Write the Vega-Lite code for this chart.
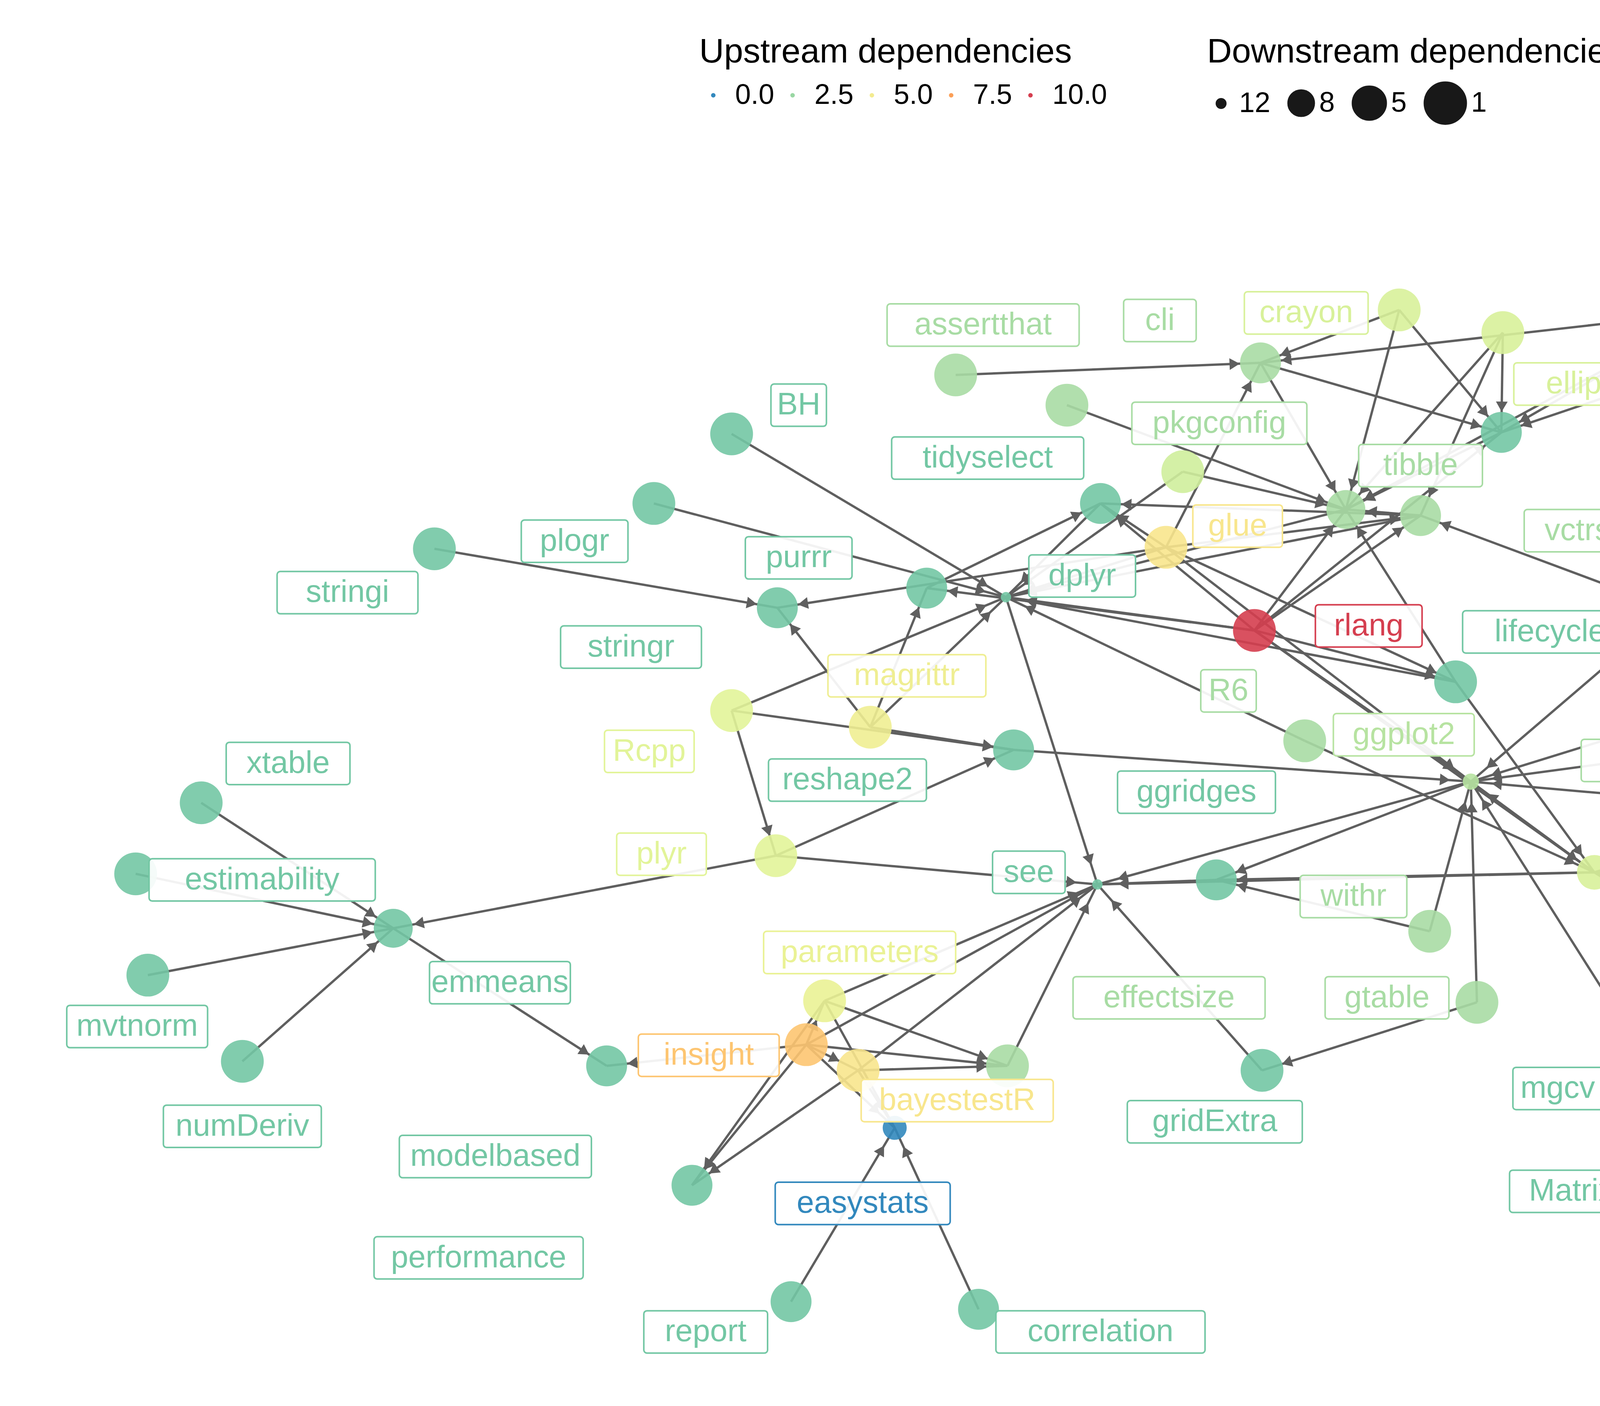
{
"$schema":"https://vega.github.io/schema/vega-lite/v6.json",
"width":6048,"height":3600,
"autosize":{"type":"none"},
"padding":0,
"background":"white",
"config":{"view":{"stroke":null},"font":"Liberation Sans"},
"datasets":{
"nodes":[
{"name":"easystats","x":587,"y":746,"lx":566,"ly":796,"up":0,"down":9},
{"name":"report","x":519,"y":861,"lx":463,"ly":881,"up":1.7,"down":2},
{"name":"correlation","x":642,"y":866,"lx":722,"ly":881,"up":1.7,"down":2},
{"name":"performance","x":454,"y":784,"lx":314,"ly":832,"up":1.7,"down":2},
{"name":"modelbased","x":398,"y":705,"lx":325,"ly":765,"up":1.7,"down":2},
{"name":"emmeans","x":258,"y":614,"lx":328,"ly":650,"up":1.7,"down":3},
{"name":"xtable","x":132,"y":531,"lx":189,"ly":505,"up":1.7,"down":1},
{"name":"estimability","x":89,"y":578,"lx":172,"ly":582,"up":1.7,"down":1},
{"name":"mvtnorm","x":97,"y":645,"lx":90,"ly":679,"up":1.7,"down":1},
{"name":"numDeriv","x":159,"y":702,"lx":159,"ly":745,"up":1.7,"down":1},
{"name":"insight","x":529,"y":691,"lx":465,"ly":698,"up":6.5,"down":1},
{"name":"bayestestR","x":563,"y":708,"lx":628,"ly":728,"up":5.3,"down":1},
{"name":"parameters","x":541,"y":662,"lx":564,"ly":630,"up":4.5,"down":1},
{"name":"effectsize","x":661,"y":705,"lx":767,"ly":660,"up":2.8,"down":1},
{"name":"see","x":720,"y":585,"lx":675,"ly":577,"up":1.7,"down":12},
{"name":"gridExtra","x":828,"y":708,"lx":797,"ly":742,"up":1.7,"down":1},
{"name":"gtable","x":969,"y":663,"lx":910,"ly":660,"up":2.8,"down":1},
{"name":"withr","x":938,"y":616,"lx":888,"ly":593,"up":2.8,"down":1},
{"name":"ggridges","x":798,"y":582,"lx":785,"ly":524,"up":1.7,"down":2},
{"name":"ggplot2","x":965,"y":517,"lx":921,"ly":486,"up":3.2,"down":11},
{"name":"scales","x":1046,"y":577,"lx":1104,"ly":607,"up":4,"down":5},
{"name":"farver","x":1255,"y":651,"lx":1297,"ly":633,"up":1.7,"down":1},
{"name":"munsell","x":1312,"y":606,"lx":1420,"ly":580,"up":1.7,"down":1},
{"name":"colorspace","x":1486,"y":614,"lx":1466,"ly":649,"up":1.7,"down":1},
{"name":"labeling","x":1290,"y":557,"lx":1402,"ly":513,"up":1.7,"down":1},
{"name":"RColorBrewer","x":1209,"y":681,"lx":1175,"ly":716,"up":1.7,"down":1},
{"name":"viridisLite","x":1178,"y":536,"lx":1106,"ly":503,"up":2.8,"down":1},
{"name":"lazyeval","x":1215,"y":483,"lx":1268,"ly":449,"up":1.7,"down":1},
{"name":"MASS","x":1189,"y":447,"lx":1142,"ly":426,"up":1.7,"down":1},
{"name":"digest","x":1097,"y":403,"lx":1247,"ly":358,"up":2.8,"down":1},
{"name":"mgcv","x":1075,"y":692,"lx":1022,"ly":720,"up":1.7,"down":1},
{"name":"Matrix","x":1089,"y":815,"lx":1031,"ly":788,"up":1.7,"down":1},
{"name":"nlme","x":1193,"y":796,"lx":1243,"ly":783,"up":1.7,"down":1},
{"name":"lattice","x":1167,"y":880,"lx":1222,"ly":880,"up":2.8,"down":1},
{"name":"lifecycle","x":955,"y":451,"lx":1017,"ly":418,"up":1.7,"down":1},
{"name":"rlang","x":823,"y":417,"lx":898,"ly":414,"up":10,"down":1},
{"name":"R6","x":856,"y":490,"lx":806,"ly":457,"up":2.8,"down":1},
{"name":"glue","x":765,"y":362,"lx":812,"ly":348,"up":5.3,"down":1},
{"name":"dplyr","x":660,"y":395,"lx":710,"ly":381,"up":1.7,"down":12},
{"name":"tidyselect","x":722,"y":333,"lx":648,"ly":303,"up":1.7,"down":2},
{"name":"pkgconfig","x":700,"y":268,"lx":800,"ly":280,"up":2.8,"down":1},
{"name":"u1","x":776,"y":312,"lx":776,"ly":312,"up":3.8,"down":1,"hide":true},
{"name":"tibble","x":883,"y":337,"lx":932,"ly":308,"up":2.8,"down":3},
{"name":"vctrs","x":932,"y":341,"lx":1035,"ly":351,"up":2.8,"down":2},
{"name":"cli","x":827,"y":240,"lx":761,"ly":212,"up":2.8,"down":2},
{"name":"crayon","x":918,"y":205,"lx":857,"ly":207,"up":4,"down":1},
{"name":"fansi","x":1123,"y":206,"lx":1122,"ly":206,"up":4,"down":1},
{"name":"utf8","x":1173,"y":222,"lx":1218,"ly":252,"up":1.7,"down":1},
{"name":"ellipsis","x":986,"y":220,"lx":1045,"ly":254,"up":4,"down":1},
{"name":"pillar","x":985,"y":286,"lx":1137,"ly":322,"up":1.7,"down":2},
{"name":"assertthat","x":627,"y":248,"lx":645,"ly":215,"up":2.8,"down":1},
{"name":"BH","x":480,"y":287,"lx":524,"ly":268,"up":1.7,"down":1},
{"name":"purrr","x":608,"y":389,"lx":524,"ly":369,"up":1.7,"down":2},
{"name":"stringr","x":510,"y":402,"lx":414,"ly":428,"up":1.7,"down":2},
{"name":"plogr","x":429,"y":333,"lx":377,"ly":358,"up":1.7,"down":1},
{"name":"stringi","x":285,"y":363,"lx":228,"ly":392,"up":1.7,"down":1},
{"name":"magrittr","x":571,"y":481,"lx":595,"ly":447,"up":4.8,"down":1},
{"name":"Rcpp","x":480,"y":470,"lx":426,"ly":497,"up":4.2,"down":1},
{"name":"reshape2","x":665,"y":496,"lx":556,"ly":516,"up":1.7,"down":2},
{"name":"plyr","x":509,"y":566,"lx":434,"ly":565,"up":4.2,"down":1}
],
"edges":[
{"s":"report","t":"easystats"},{"s":"correlation","t":"easystats"},{"s":"bayestestR","t":"easystats"},{"s":"insight","t":"easystats"},{"s":"parameters","t":"easystats"},
{"s":"insight","t":"see"},{"s":"insight","t":"performance"},{"s":"insight","t":"modelbased"},{"s":"insight","t":"bayestestR"},{"s":"insight","t":"parameters"},{"s":"insight","t":"effectsize"},
{"s":"bayestestR","t":"see"},{"s":"bayestestR","t":"performance"},{"s":"bayestestR","t":"effectsize"},{"s":"parameters","t":"see"},{"s":"parameters","t":"performance"},{"s":"parameters","t":"effectsize"},
{"s":"effectsize","t":"see"},{"s":"emmeans","t":"modelbased"},{"s":"xtable","t":"emmeans"},{"s":"estimability","t":"emmeans"},{"s":"mvtnorm","t":"emmeans"},{"s":"numDeriv","t":"emmeans"},{"s":"plyr","t":"emmeans"},
{"s":"gridExtra","t":"see"},{"s":"ggridges","t":"see"},{"s":"ggplot2","t":"see"},{"s":"scales","t":"see"},{"s":"dplyr","t":"see"},{"s":"plyr","t":"see"},
{"s":"gtable","t":"gridExtra"},{"s":"gtable","t":"ggplot2"},{"s":"withr","t":"ggplot2"},{"s":"viridisLite","t":"ggplot2"},{"s":"lazyeval","t":"ggplot2"},{"s":"MASS","t":"ggplot2"},{"s":"digest","t":"ggplot2"},{"s":"scales","t":"ggplot2"},{"s":"mgcv","t":"ggplot2"},{"s":"rlang","t":"ggplot2"},{"s":"reshape2","t":"ggplot2"},{"s":"glue","t":"ggplot2"},
{"s":"farver","t":"scales"},{"s":"munsell","t":"scales"},{"s":"labeling","t":"scales"},{"s":"RColorBrewer","t":"scales"},{"s":"viridisLite","t":"scales"},{"s":"R6","t":"scales"},{"s":"lifecycle","t":"scales"},{"s":"rlang","t":"scales"},
{"s":"colorspace","t":"munsell"},{"s":"Matrix","t":"mgcv"},{"s":"nlme","t":"mgcv"},{"s":"lattice","t":"Matrix"},{"s":"lattice","t":"nlme"},
{"s":"rlang","t":"dplyr"},{"s":"glue","t":"dplyr"},{"s":"R6","t":"dplyr"},{"s":"magrittr","t":"dplyr"},{"s":"tidyselect","t":"dplyr"},{"s":"tibble","t":"dplyr"},{"s":"vctrs","t":"dplyr"},{"s":"lifecycle","t":"dplyr"},{"s":"Rcpp","t":"dplyr"},{"s":"BH","t":"dplyr"},{"s":"plogr","t":"dplyr"},{"s":"u1","t":"dplyr"},
{"s":"glue","t":"tidyselect"},{"s":"rlang","t":"tidyselect"},{"s":"purrr","t":"tidyselect"},{"s":"vctrs","t":"tidyselect"},
{"s":"magrittr","t":"purrr"},{"s":"rlang","t":"purrr"},{"s":"stringi","t":"stringr"},{"s":"glue","t":"stringr"},{"s":"magrittr","t":"stringr"},
{"s":"plyr","t":"reshape2"},{"s":"Rcpp","t":"reshape2"},{"s":"magrittr","t":"reshape2"},{"s":"Rcpp","t":"plyr"},
{"s":"cli","t":"tibble"},{"s":"crayon","t":"tibble"},{"s":"fansi","t":"tibble"},{"s":"ellipsis","t":"tibble"},{"s":"lifecycle","t":"tibble"},{"s":"pillar","t":"tibble"},{"s":"pkgconfig","t":"tibble"},{"s":"rlang","t":"tibble"},{"s":"vctrs","t":"tibble"},{"s":"u1","t":"tibble"},
{"s":"ellipsis","t":"vctrs"},{"s":"glue","t":"vctrs"},{"s":"rlang","t":"vctrs"},{"s":"digest","t":"vctrs"},
{"s":"cli","t":"pillar"},{"s":"crayon","t":"pillar"},{"s":"fansi","t":"pillar"},{"s":"rlang","t":"pillar"},{"s":"utf8","t":"pillar"},{"s":"ellipsis","t":"pillar"},
{"s":"assertthat","t":"cli"},{"s":"crayon","t":"cli"},{"s":"glue","t":"cli"},{"s":"fansi","t":"cli"},
{"s":"glue","t":"lifecycle"},{"s":"rlang","t":"lifecycle"},
{"s":"ggplot2","t":"ggridges"},{"s":"scales","t":"ggridges"},{"s":"withr","t":"ggridges"}
]
},
"layer":[
{"data":{"name":"edges"},
 "transform":[
  {"lookup":"s","from":{"data":{"name":"nodes"},"key":"name","fields":["x","y"]},"as":["sx","sy"]},
  {"lookup":"t","from":{"data":{"name":"nodes"},"key":"name","fields":["x","y"]},"as":["tx","ty"]}
 ],
 "mark":{"type":"rule","color":"#5f5f5f","strokeWidth":6},
 "encoding":{
  "x":{"field":"sx","type":"quantitative","scale":{"domain":[0,1550],"nice":false,"zero":false},"axis":null},
  "y":{"field":"sy","type":"quantitative","scale":{"domain":[0,930],"nice":false,"zero":false,"reverse":true},"axis":null},
  "x2":{"field":"tx"},"y2":{"field":"ty"}}},
{"data":{"name":"edges"},
 "transform":[
  {"lookup":"s","from":{"data":{"name":"nodes"},"key":"name","fields":["x","y"]},"as":["sx","sy"]},
  {"lookup":"t","from":{"data":{"name":"nodes"},"key":"name","fields":["x","y"]},"as":["tx","ty"]},
  {"calculate":"sqrt(pow(datum.tx-datum.sx,2)+pow(datum.ty-datum.sy,2))","as":"len"},
  {"calculate":"datum.tx-(datum.tx-datum.sx)/datum.len*17","as":"ax"},
  {"calculate":"datum.ty-(datum.ty-datum.sy)/datum.len*17","as":"ay"},
  {"calculate":"atan2(datum.tx-datum.sx, -(datum.ty-datum.sy))*180/PI","as":"ang"}
 ],
 "mark":{"type":"point","shape":"triangle-up","filled":true,"color":"#5f5f5f","opacity":1,"size":900},
 "encoding":{
  "x":{"field":"ax","type":"quantitative"},
  "y":{"field":"ay","type":"quantitative"},
  "angle":{"field":"ang","type":"quantitative","scale":null}}},
{"data":{"name":"nodes"},
 "mark":{"type":"circle","opacity":0.9},
 "encoding":{
  "x":{"field":"x","type":"quantitative"},
  "y":{"field":"y","type":"quantitative"},
  "color":{"field":"up","type":"quantitative","title":"Upstream dependencies",
   "scale":{"domain":[0,10],"range":["#3288bd","#66c2a5","#abdda4","#e6f598","#fee08b","#fdae61","#f46d43","#d53e4f"]},
   "legend":{"type":"gradient","orient":"none","legendX":1790,"legendY":90,"direction":"horizontal","gradientLength":1100,"gradientThickness":30,"titleFontSize":88,"titleFontWeight":"normal","titleLimit":3000,"labelFontSize":72,"values":[0,2.5,5,7.5,10],"format":".1f","titlePadding":30,"labelOffset":20}},
  "size":{"field":"down","type":"quantitative","title":"Downstream dependencies",
   "scale":{"domain":[1,12],"range":[12000,700]},
   "legend":{"orient":"none","legendX":3090,"legendY":90,"direction":"horizontal","values":[12,8,5,1],"titleFontSize":88,"titleFontWeight":"normal","titleLimit":3000,"labelFontSize":72,"symbolFillColor":"black","symbolStrokeColor":"black","titlePadding":30,"labelOffset":10,"columnPadding":40}}}},
{"data":{"name":"nodes"},
 "transform":[{"filter":"!datum.hide"},
  {"calculate":"length(datum.name)*5.6+7","as":"hw"},
  {"calculate":"datum.lx-datum.hw","as":"bx1"},{"calculate":"datum.lx+datum.hw","as":"bx2"},
  {"calculate":"datum.ly-14","as":"by1"},{"calculate":"datum.ly+14","as":"by2"}],
 "mark":{"type":"rect","fill":"white","fillOpacity":0.92,"strokeWidth":4,"cornerRadius":8},
 "encoding":{
  "x":{"field":"bx1","type":"quantitative"},"x2":{"field":"bx2"},
  "y":{"field":"by1","type":"quantitative"},"y2":{"field":"by2"},
  "stroke":{"field":"up","type":"quantitative","scale":{"domain":[0,10],"range":["#3288bd","#66c2a5","#abdda4","#e6f598","#fee08b","#fdae61","#f46d43","#d53e4f"]},"legend":null}}},
{"data":{"name":"nodes"},
 "transform":[{"filter":"!datum.hide"}],
 "mark":{"type":"text","fontSize":80,"baseline":"middle","align":"center","font":"Liberation Sans"},
 "encoding":{
  "x":{"field":"lx","type":"quantitative"},
  "y":{"field":"ly","type":"quantitative"},
  "text":{"field":"name"},
  "fontWeight":{"condition":{"test":"datum.name=='easystats'","value":"bold"},"value":"normal"},
  "color":{"field":"up","type":"quantitative","scale":{"domain":[0,10],"range":["#3288bd","#66c2a5","#abdda4","#e6f598","#fee08b","#fdae61","#f46d43","#d53e4f"]},"legend":null}}}
]
}
